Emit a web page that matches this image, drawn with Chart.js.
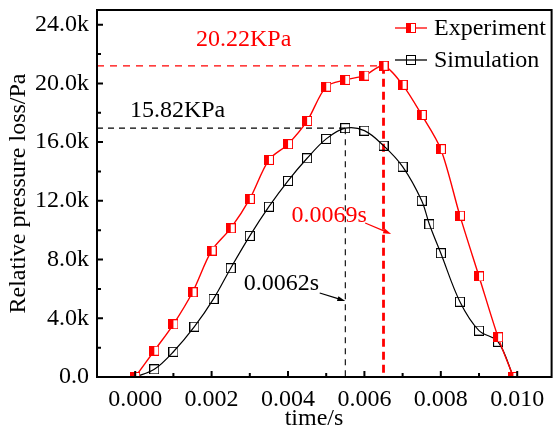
<!DOCTYPE html>
<html>
<head>
<meta charset="utf-8">
<script src="https://cdn.jsdelivr.net/npm/chart.js@4.4.1/dist/chart.umd.min.js"></script>
<style>
  html, body { margin: 0; padding: 0; background: #fff; }
  #wrap { width: 558px; height: 430px; }
</style>
</head>
<body>
<div id="wrap"><canvas id="pressureChart" width="558" height="430"></canvas></div>
<script>
// experiment (red, half filled squares)
const expTime = [0, 0.0005, 0.001, 0.0015, 0.002, 0.0025, 0.003, 0.0035, 0.004, 0.0045, 0.005,
                 0.0055, 0.006, 0.0065, 0.007, 0.0075, 0.008, 0.0085, 0.009, 0.0095, 0.0099];
const expPressure = [0, 1790, 3590, 5770, 8610, 10130, 12130, 14790, 15860, 17440, 19780,
                     20240, 20530, 21200, 19900, 17850, 15520, 10990, 6850, 2700, 0];

// simulation (black, open squares)
const simTime = [0, 0.0005, 0.001, 0.00155, 0.00205, 0.0025, 0.003, 0.0035, 0.004, 0.0045, 0.005,
                 0.0055, 0.006, 0.0065, 0.007, 0.0075, 0.0077, 0.008, 0.0085, 0.009, 0.0095, 0.0099];
const simPressure = [0, 520, 1720, 3430, 5320, 7410, 9610, 11600, 13360, 14900, 16220,
                     16950, 16780, 15760, 14330, 12010, 10400, 8430, 5130, 3160, 2400, 0];

// axes: ranges and tick positions (labels only on the major ones)
const xMin = -0.001, xMax = 0.0109;
const xTicks = [-0.001, 0, 0.001, 0.002, 0.003, 0.004, 0.005, 0.006, 0.007, 0.008, 0.009, 0.010];
const xMajor = [0, 0.002, 0.004, 0.006, 0.008, 0.010];
const yMin = 0, yMax = 25000;
const yTicks = [0, 2000, 4000, 6000, 8000, 10000, 12000, 14000, 16000, 18000, 20000, 22000, 24000];
const yMajor = [0, 4000, 8000, 12000, 16000, 20000, 24000];
const yMajorLabels = ['0.0', '4.0k', '8.0k', '12.0k', '16.0k', '20.0k', '24.0k'];

// peak guide lines
const expPeak = { t: 0.0065, p: 21200 };
const simPeak = { t: 0.0055, p: 16950 };

// text notes, placed in data units
const notes = [
  { text: '20.22KPa', color: '#ff0000', t: 0.00284, p: 22550 },
  { text: '15.82KPa', color: '#000000', t: 0.00111, p: 17740 },
  { text: '0.0069s',  color: '#ff0000', t: 0.00508, p: 10580 },
  { text: '0.0062s',  color: '#000000', t: 0.00383, p: 5930 }
];
const arrows = [
  { color: '#ff0000', from: [0.00602, 10490], to: [0.0067, 9740] },
  { color: '#000000', from: [0.00483, 5720], to: [0.0055, 5180] }
];

const FONT = '"Liberation Serif", "Times New Roman", serif';

// marker images
function halfSquare(size, color) {
    const c = document.createElement('canvas');
    c.width = size; c.height = size;
    const g = c.getContext('2d');
    g.fillStyle = '#fff';
    g.fillRect(0, 0, size, size);
    g.fillStyle = color;
    g.fillRect(0, 0, size / 2, size);
    g.strokeStyle = color;
    g.lineWidth = 1;
    g.strokeRect(0.5, 0.5, size - 1, size - 1);
    return c;
}
function openSquare(size, color) {
    const c = document.createElement('canvas');
    c.width = size; c.height = size;
    const g = c.getContext('2d');
    g.strokeStyle = color;
    g.lineWidth = 1;
    g.strokeRect(0.5, 0.5, size - 1, size - 1);
    return c;
}
const redMark = halfSquare(10, '#ff0000');
const blackMark = openSquare(10, '#000000');

function isMajor(list, v) {
    return list.some(m => Math.abs(m - v) < 1e-9);
}

function dashed(ctx, x1, y1, x2, y2, color, width, dash) {
    ctx.save();
    ctx.strokeStyle = color;
    ctx.lineWidth = width;
    ctx.setLineDash(dash);
    ctx.beginPath();
    ctx.moveTo(x1, y1);
    ctx.lineTo(x2, y2);
    ctx.stroke();
    ctx.restore();
}

function arrow(ctx, x1, y1, x2, y2, color) {
    const a = Math.atan2(y2 - y1, x2 - x1);
    ctx.save();
    ctx.strokeStyle = color;
    ctx.fillStyle = color;
    ctx.lineWidth = 1.2;
    ctx.beginPath();
    ctx.moveTo(x1, y1);
    ctx.lineTo(x2 - 6 * Math.cos(a), y2 - 6 * Math.sin(a));
    ctx.stroke();
    ctx.beginPath();
    ctx.moveTo(x2, y2);
    ctx.lineTo(x2 - 8 * Math.cos(a) + 2.5 * Math.sin(a), y2 - 8 * Math.sin(a) - 2.5 * Math.cos(a));
    ctx.lineTo(x2 - 8 * Math.cos(a) - 2.5 * Math.sin(a), y2 - 8 * Math.sin(a) + 2.5 * Math.cos(a));
    ctx.closePath();
    ctx.fill();
    ctx.restore();
}

const decorPlugin = {
    id: 'decor',
    beforeDatasetsDraw(chart) {
        const ctx = chart.ctx;
        const x = chart.scales.x, y = chart.scales.y;
        // red guide lines
        const ex = x.getPixelForValue(expPeak.t), ey = y.getPixelForValue(expPeak.p);
        dashed(ctx, x.left, ey, ex, ey, '#ff0000', 1.3, [7, 6]);
        dashed(ctx, ex, ey, ex, y.bottom, '#ff0000', 2.8, [8, 5]);
        // black guide lines
        const sx = x.getPixelForValue(simPeak.t), sy = y.getPixelForValue(simPeak.p);
        dashed(ctx, x.left, sy, sx, sy, '#000000', 1.1, [6, 5]);
        dashed(ctx, sx, sy, sx, y.bottom, '#000000', 1.1, [6, 5]);
    },
    afterDraw(chart) {
        const ctx = chart.ctx;
        const x = chart.scales.x, y = chart.scales.y;
        const area = chart.chartArea;
        ctx.save();
        // frame
        ctx.strokeStyle = '#000';
        ctx.lineWidth = 2;
        ctx.strokeRect(area.left, area.top, area.right - area.left, area.bottom - area.top);
        // inward ticks
        ctx.beginPath();
        y.ticks.forEach(t => {
            const py = y.getPixelForValue(t.value);
            const len = isMajor(yMajor, t.value) ? 6 : 4;
            ctx.moveTo(area.left, py);
            ctx.lineTo(area.left + len, py);
        });
        x.ticks.forEach(t => {
            const px = x.getPixelForValue(t.value);
            const len = isMajor(xMajor, t.value) ? 6 : 4;
            ctx.moveTo(px, area.bottom);
            ctx.lineTo(px, area.bottom - len);
        });
        ctx.stroke();

        // notes and arrows
        ctx.font = '24px ' + FONT;
        ctx.textAlign = 'center';
        ctx.textBaseline = 'alphabetic';
        notes.forEach(n => {
            ctx.fillStyle = n.color;
            ctx.fillText(n.text, x.getPixelForValue(n.t), y.getPixelForValue(n.p));
        });
        arrows.forEach(a => {
            arrow(ctx, x.getPixelForValue(a.from[0]), y.getPixelForValue(a.from[1]),
                  x.getPixelForValue(a.to[0]), y.getPixelForValue(a.to[1]), a.color);
        });

        // x axis title
        ctx.fillStyle = '#000';
        ctx.fillText('time/s', 314, 425);

        // legend
        const entries = [
            { label: 'Experiment', color: '#ff0000', mark: redMark, y: 28 },
            { label: 'Simulation', color: '#000000', mark: blackMark, y: 60 }
        ];
        ctx.textAlign = 'left';
        ctx.textBaseline = 'middle';
        entries.forEach(e => {
            ctx.strokeStyle = e.color;
            ctx.lineWidth = 1.3;
            ctx.beginPath();
            ctx.moveTo(395, e.y);
            ctx.lineTo(427, e.y);
            ctx.stroke();
            ctx.drawImage(e.mark, 406, e.y - 5);
            ctx.fillStyle = '#000';
            ctx.fillText(e.label, 434, e.y + 1);
        });
        ctx.restore();
    }
};

const ctx = document.getElementById('pressureChart').getContext('2d');

new Chart(ctx, {
    type: 'line',
    data: {
        datasets: [{
            label: 'Experiment',
            data: expTime.map((t, i) => ({ x: t, y: expPressure[i] })),
            borderColor: '#ff0000',
            borderWidth: 1.4,
            tension: 0.3,
            pointStyle: redMark,
            pointRadius: 5,
            fill: false
        }, {
            label: 'Simulation',
            data: simTime.map((t, i) => ({ x: t, y: simPressure[i] })),
            borderColor: '#000000',
            borderWidth: 1.2,
            tension: 0.35,
            pointStyle: blackMark,
            pointRadius: 5,
            fill: false
        }]
    },
    options: {
        responsive: false,
        animation: false,
        layout: { padding: { top: 10, right: 5, left: 0, bottom: 0 } },
        plugins: {
            legend: { display: false },
            tooltip: { enabled: false }
        },
        scales: {
            x: {
                type: 'linear',
                min: xMin,
                max: xMax,
                afterBuildTicks(scale) { scale.ticks = xTicks.map(v => ({ value: v })); },
                afterFit(scale) {
                    scale.height = 53;
                    scale.paddingLeft = 0;
                    scale.paddingRight = 0;
                },
                grid: { display: false, drawTicks: false },
                border: { display: false },
                ticks: {
                    autoSkip: false,
                    maxRotation: 0,
                    padding: 8,
                    color: '#000',
                    font: { family: FONT, size: 24 },
                    callback: function(v) {
                        return isMajor(xMajor, v) ? v.toFixed(3) : '';
                    }
                }
            },
            y: {
                type: 'linear',
                min: yMin,
                max: yMax,
                afterBuildTicks(scale) { scale.ticks = yTicks.map(v => ({ value: v })); },
                afterFit(scale) {
                    scale.width = 97;
                    scale.paddingTop = 0;
                    scale.paddingBottom = 0;
                },
                grid: { display: false, drawTicks: false },
                border: { display: false },
                title: {
                    display: true,
                    text: 'Relative pressure loss/Pa',
                    color: '#000',
                    font: { family: FONT, size: 24 },
                    padding: { top: 4, bottom: 0 }
                },
                ticks: {
                    autoSkip: false,
                    padding: 8,
                    color: '#000',
                    font: { family: FONT, size: 24 },
                    callback: function(v) {
                        const i = yMajor.findIndex(m => Math.abs(m - v) < 1e-6);
                        return i >= 0 ? yMajorLabels[i] : '';
                    }
                }
            }
        }
    },
    plugins: [decorPlugin]
});
</script>
</body>
</html>
